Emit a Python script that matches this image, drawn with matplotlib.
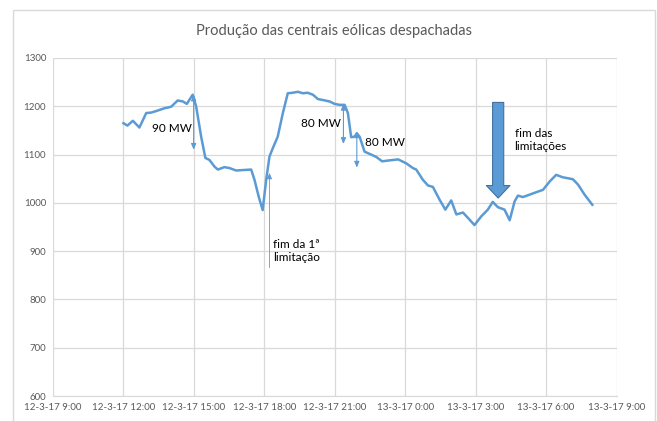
import matplotlib.pyplot as plt
from matplotlib.patches import Rectangle
import numpy as np

# horas desde 12-3-17 9:00
horas = [3.0, 3.17, 3.4, 3.68, 3.97, 4.18, 4.39, 4.75, 5.03, 5.31, 5.53, 5.7, 5.95,
         6.1, 6.31, 6.49, 6.66, 6.88, 7.02, 7.3, 7.52, 7.8, 8.44, 8.58, 8.76, 8.93,
         9.08, 9.22, 9.36, 9.57, 9.79, 10.0, 10.21, 10.43, 10.64, 10.85, 11.07, 11.28,
         11.49, 11.78, 11.99, 12.2, 12.42, 12.56, 12.7, 12.84, 12.94, 13.06, 13.27,
         13.55, 13.77, 14.02, 14.33, 14.7, 15.04, 15.33, 15.47, 15.75, 15.97, 16.18,
         16.46, 16.71, 16.96, 17.18, 17.46, 17.67, 17.95, 18.24, 18.52, 18.73, 18.95,
         19.23, 19.45, 19.66, 19.8, 20.01, 20.3, 20.58, 20.87, 21.15, 21.43, 21.71,
         22.14, 22.36, 22.64, 22.97]
producao = [1165, 1160, 1170, 1156, 1186, 1187, 1190, 1196, 1199, 1212, 1210, 1205, 1224,
            1199, 1137, 1093, 1089, 1075, 1069, 1074, 1072, 1067, 1069, 1048, 1013, 985,
            1048, 1096, 1113, 1137, 1186, 1227, 1228, 1230, 1227, 1228, 1224, 1215,
            1213, 1210, 1205, 1203, 1203, 1186, 1136, 1137, 1144, 1137, 1106,
            1100, 1095, 1086, 1088, 1090, 1082, 1072, 1069, 1048, 1036, 1033,
            1007, 986, 1005, 976, 980, 969, 954, 972, 986, 1002, 991,
            986, 964, 1003, 1015, 1012, 1017, 1022, 1027, 1044, 1058, 1053,
            1049, 1038, 1017, 996]

x_ticks = [0, 3, 6, 9, 12, 15, 18, 21, 24]
x_labels = ['12-3-17 9:00', '12-3-17 12:00', '12-3-17 15:00', '12-3-17 18:00',
            '12-3-17 21:00', '13-3-17 0:00', '13-3-17 3:00', '13-3-17 6:00',
            '13-3-17 9:00']
y_ticks = [600, 700, 800, 900, 1000, 1100, 1200, 1300]

azul = '#5B9BD5'
cinza = '#595959'
plt.rcParams['font.family'] = ['Lato', 'DejaVu Sans']

fig = plt.figure(figsize=(6.57, 4.21), dpi=100)
fig.patches.append(Rectangle((12.5 / 657, -0.05), (655 - 12.5) / 657, 1.05 - 10 / 421,
                             transform=fig.transFigure, fill=False,
                             edgecolor='#D9D9D9', linewidth=1))
ax = fig.add_axes([53 / 657, 1 - 396 / 421, (616.5 - 53) / 657, (396 - 58) / 421])

ax.plot(horas, producao, color=azul, linewidth=1.8, solid_joinstyle='round')

ax.set_xlim(0, 24)
ax.set_ylim(600, 1300)
ax.set_xticks(x_ticks, x_labels)
ax.set_yticks(y_ticks)
ax.grid(True, color='#D9D9D9', linewidth=0.9)
ax.set_axisbelow(True)
ax.tick_params(length=0, labelsize=7, colors=cinza, pad=5)
for s in ['top', 'right', 'left']:
    ax.spines[s].set_visible(False)
ax.spines['bottom'].set_color('#D9D9D9')

fig.text(334 / 657, 1 - 31 / 421, 'Produção das centrais eólicas despachadas',
         ha='center', va='center', fontsize=10.5, color=cinza)

# setas duplas
seta = dict(arrowstyle='<|-|>,head_length=0.35,head_width=0.15', color=azul,
            linewidth=0.8, shrinkA=0, shrinkB=0)
ax.annotate('', xy=(5.99, 1224), xytext=(5.99, 1110), arrowprops=seta)
ax.annotate('', xy=(12.37, 1205), xytext=(12.37, 1122), arrowprops=seta)
ax.annotate('', xy=(12.94, 1148), xytext=(12.94, 1073), arrowprops=seta)
ax.text(5.05, 1155, '90 MW', ha='center', va='center', fontsize=8.5)
ax.text(11.4, 1164, '80 MW', ha='center', va='center', fontsize=8.5)
ax.text(13.3, 1124, '80 MW', ha='left', va='center', fontsize=8.5)

# fim da 1ª limitação
ax.annotate('', xy=(9.22, 1062), xytext=(9.22, 866),
            arrowprops=dict(arrowstyle='-|>,head_length=0.35,head_width=0.15',
                            color=azul, linewidth=0.6, shrinkA=0, shrinkB=0))
ax.text(9.36, 900, 'fim da 1ª\nlimitação', ha='left', va='center', fontsize=8.5,
        linespacing=1.25)

# fim das limitações
ax.annotate('', xy=(18.96, 1010), xytext=(18.96, 1208),
            arrowprops=dict(arrowstyle='simple,head_length=9,head_width=17,tail_width=8',
                            mutation_scale=1, facecolor=azul, edgecolor='#41719C',
                            linewidth=0.8, shrinkA=0, shrinkB=0))
ax.text(19.66, 1130, 'fim das\nlimitações', ha='left', va='center', fontsize=8.5,
        linespacing=1.25)

fig.savefig('out.png', dpi=100)
